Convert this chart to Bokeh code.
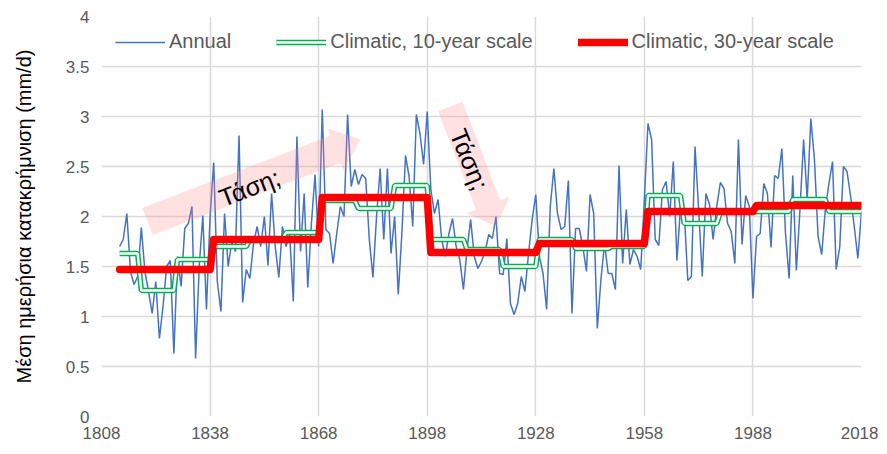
import math
from bokeh.plotting import figure
from bokeh.models import Range1d, FixedTicker, Legend, LegendItem
from bokeh.core.properties import value
from bokeh.embed import file_html
from bokeh.resources import INLINE

# ---------------- data ----------------
start_year = 1813
annual = [
    1.70, 1.77, 2.03, 1.45, 1.32, 1.40, 1.89, 1.45, 1.25, 1.03,   # 1813-1822
    1.35, 0.78, 1.10, 1.50, 1.56, 0.63, 1.60, 1.30, 1.88, 1.93,   # 1823-1832
    2.10, 0.58, 1.50, 2.01, 1.07, 2.00, 2.54, 1.35, 1.05, 2.03,   # 1833-1842
    1.50, 1.75, 1.65, 2.81, 1.14, 1.47, 1.38, 1.73, 1.90, 1.70,   # 1843-1852
    2.00, 1.51, 2.23, 1.70, 1.39, 1.90, 1.70, 1.82, 1.15, 2.80,   # 1853-1862
    1.65, 2.23, 1.29, 1.93, 2.42, 1.70, 3.07, 1.87, 1.83, 1.53,   # 1863-1872
    1.83, 2.10, 2.00, 3.02, 2.30, 2.47, 2.32, 2.42, 2.38, 1.77,   # 1873-1882
    1.39, 2.00, 2.48, 1.77, 2.48, 1.63, 2.00, 1.22, 1.83, 2.61,   # 1883-1892
    2.40, 1.90, 3.02, 2.83, 2.52, 3.05, 2.27, 2.03, 2.17, 1.77,   # 1893-1902
    1.60, 1.83, 1.98, 1.70, 1.57, 1.27, 1.67, 1.97, 1.60, 1.48,   # 1903-1912
    1.55, 1.65, 1.82, 1.78, 2.00, 1.43, 1.42, 1.78, 1.13, 1.02,   # 1913-1922
    1.13, 1.40, 1.25, 1.63, 1.97, 2.22, 1.60, 1.43, 1.07, 2.10,   # 1923-1932
    2.48, 2.03, 1.87, 1.90, 2.36, 1.03, 1.88, 1.88, 1.70, 1.45,   # 1933-1942
    2.22, 2.03, 0.88, 1.37, 1.73, 1.43, 1.43, 1.27, 2.51, 1.53,   # 1943-1952
    2.07, 1.52, 1.67, 1.60, 1.47, 2.17, 2.93, 2.77, 1.77, 1.71,   # 1953-1962
    2.27, 2.35, 2.00, 2.55, 1.56, 2.10, 2.07, 1.36, 1.40, 2.70,   # 1963-1972
    2.07, 1.40, 2.23, 2.12, 1.77, 2.10, 2.34, 2.28, 1.93, 1.85,   # 1973-1982
    1.53, 2.77, 1.72, 2.21, 2.10, 1.18, 1.80, 1.83, 2.33, 2.23,   # 1983-1992
    1.69, 2.41, 2.38, 2.68, 1.83, 1.38, 2.41, 1.46, 2.07, 2.77,   # 1993-2002
    2.17, 2.98, 2.57, 1.80, 1.62, 2.07, 2.33, 2.55, 1.47, 1.70,   # 2003-2012
    2.50, 2.45, 2.20, 1.90, 1.58, 2.05,                           # 2013-2018
]
years = list(range(start_year, start_year + len(annual)))

c10_starts = [1813, 1819, 1829, 1839, 1849, 1859, 1869, 1879, 1889, 1899, 1909,
              1919, 1929, 1939, 1949, 1959, 1969, 1979, 1989, 1999, 2009]
c10_vals = [1.63, 1.26, 1.57, 1.70, 1.77, 1.84, 2.16, 2.08, 2.31, 1.77, 1.67,
            1.50, 1.77, 1.68, 1.70, 2.21, 1.93, 2.04, 2.05, 2.17, 2.05]

c30_starts = [1813, 1839, 1869, 1899, 1929, 1959, 1989]
c30_vals = [1.47, 1.77, 2.19, 1.64, 1.73, 2.05, 2.11]

x_ticks = [1808, 1838, 1868, 1898, 1928, 1958, 1988, 2018]
y_ticks = [0, 0.5, 1, 1.5, 2, 2.5, 3, 3.5, 4]
y_tick_labels = ["0", "0.5", "1", "1.5", "2", "2.5", "3", "3.5", "4"]

legend_labels = ["Annual", "Climatic, 10-year scale", "Climatic, 30-year scale"]
y_label = "Μέση ημερήσια κατακρήμνιση (mm/d)"
trend_text = "Τάση;"


def expand(starts, vals, yrs):
    out = []
    for y in yrs:
        idx = max(i for i, s in enumerate(starts) if s <= y)
        out.append(vals[idx])
    return out


c10_line = expand(c10_starts, c10_vals, years)
c30_line = expand(c30_starts, c30_vals, years)

# ---------------- figure ----------------
FW, FH = 760, 400
X0, X1, Y0, Y1 = 1808, 2018, 0, 4
p = figure(frame_width=FW, frame_height=FH,
           x_range=Range1d(X0, X1), y_range=Range1d(Y0, Y1),
           output_backend="svg", toolbar_location=None,
           min_border_left=101, min_border_top=16, min_border_right=17,
           min_border_bottom=10)
p.outline_line_color = None
p.background_fill_color = "white"

grid_col = "#D9D9D9"
p.xaxis.ticker = FixedTicker(ticks=x_ticks)
p.yaxis.ticker = FixedTicker(ticks=y_ticks)
p.xgrid.ticker = FixedTicker(ticks=x_ticks)
p.ygrid.ticker = FixedTicker(ticks=y_ticks)
for g in (p.xgrid, p.ygrid):
    g.grid_line_color = grid_col
    g.grid_line_width = 1.5

p.yaxis.major_label_overrides = {t: l for t, l in zip(y_ticks, y_tick_labels)}
for ax in (p.xaxis, p.yaxis):
    ax.axis_line_color = None
    ax.major_tick_line_color = None
    ax.minor_tick_line_color = None
    ax.major_tick_out = 0
    ax.major_tick_in = 0
    ax.major_label_text_color = "#595959"
    ax.major_label_text_font = "Liberation Sans"
    ax.major_label_text_font_size = "17px"

p.xaxis.major_label_standoff = 10
p.yaxis.major_label_standoff = 12
p.yaxis.axis_label = y_label
p.yaxis.axis_label_text_font = "Liberation Sans"
p.yaxis.axis_label_text_font_style = "normal"
p.yaxis.axis_label_text_font_size = "20px"
p.yaxis.axis_label_text_color = "#000000"
p.yaxis.axis_label_standoff = 28

# ---------------- series ----------------
blue = p.line(years, annual, line_color="#4472C4", line_width=1.5)
g_outer = p.line(years, c10_line, line_color="#00B050", line_width=5.5)
g_inner = p.line(years, c10_line, line_color="white", line_width=2.5)
red = p.line(years, c30_line, line_color="#FF0000", line_width=7.5,
             line_cap="round", line_join="round")

# ---------------- arrows ----------------
SX = FW / (X1 - X0)
SY = FH / (Y1 - Y0)


def arrow(tail, tip, body_w, head_w, head_len):
    tx, ty = (tail[0] - X0) * SX, tail[1] * SY
    hx, hy = (tip[0] - X0) * SX, tip[1] * SY
    L = math.hypot(hx - tx, hy - ty)
    ux, uy = (hx - tx) / L, (hy - ty) / L
    nx, ny = -uy, ux
    nkx, nky = hx - ux * head_len, hy - uy * head_len
    pts = [
        (tx + nx * body_w / 2, ty + ny * body_w / 2),
        (nkx + nx * body_w / 2, nky + ny * body_w / 2),
        (nkx + nx * head_w / 2, nky + ny * head_w / 2),
        (hx, hy),
        (nkx - nx * head_w / 2, nky - ny * head_w / 2),
        (nkx - nx * body_w / 2, nky - ny * body_w / 2),
        (tx - nx * body_w / 2, ty - ny * body_w / 2),
    ]
    return [X0 + a / SX for a, b in pts], [b / SY for a, b in pts]


ax1, ay1 = arrow((1820.7, 1.95), (1879.6, 2.77), 29, 45, 27)
ax2, ay2 = arrow((1904.4, 3.10), (1917.1, 1.90), 26, 46, 23)
for xs, ys in ((ax1, ay1), (ax2, ay2)):
    p.patch(xs, ys, fill_color="#FF8888", fill_alpha=0.25, line_color=None)

p.text(x=[1848.9, 1909.7], y=[2.29, 2.57], text=[trend_text, trend_text],
       angle=[21, -68], angle_units="deg",
       text_font=value("Liberation Sans"), text_font_size="25px",
       text_color="black", text_align="center", text_baseline="middle")

# ---------------- legend ----------------
legend = Legend(items=[
    LegendItem(label=legend_labels[0], renderers=[blue]),
    LegendItem(label=legend_labels[1], renderers=[g_outer, g_inner]),
    LegendItem(label=legend_labels[2], renderers=[red]),
], orientation="horizontal", location="top_left")
legend.margin = 14
legend.padding = 0
legend.spacing = 45
legend.glyph_width = 50
legend.glyph_height = 20
legend.label_standoff = 4
legend.label_text_font = "Liberation Sans"
legend.label_text_font_size = "20px"
legend.label_text_color = "#595959"
legend.background_fill_alpha = 0
legend.border_line_color = None
p.add_layout(legend)

open("out.html", "w").write(file_html(p, INLINE))
